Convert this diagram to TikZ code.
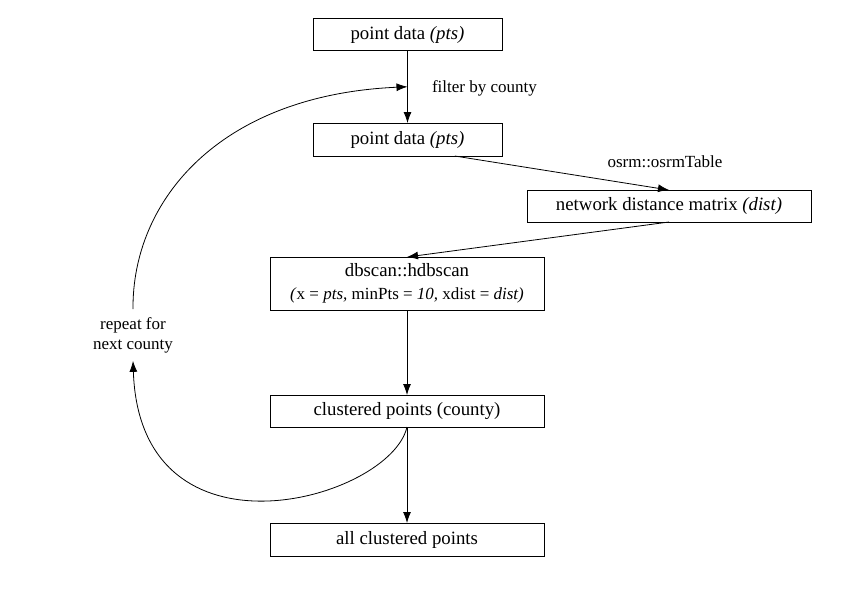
\documentclass[tikz,border=0pt]{standalone}
\usepackage{fontspec}
\setmainfont{Liberation Serif}
\usetikzlibrary{arrows.meta,calc}

\begin{document}
\begin{tikzpicture}[x=1pt, y=-1pt, line width=0.8pt,
    every node/.style={outer sep=0pt, inner sep=0pt},
    box/.style={draw, minimum width=189pt, minimum height=32pt, align=center, font=\fontsize{18.8}{23}\selectfont},
    lbl/.style={align=center, font=\fontsize{17}{20}\selectfont},
    arr/.style={-{Latex[length=11pt, width=8pt]}}]
    \useasboundingbox (0,0) rectangle (858,603);

    \node[box] (pts) at (407.5, 34.5) {point data \textit{(pts)}};
    \node[box, minimum height=33pt] (ptsc) at (407.5, 139.5) {point data \textit{(pts)}};
    \node[box, minimum width=284pt] (dist) at (669, 206) {network distance matrix \textit{(dist)}};
    \node[box, minimum width=274pt, minimum height=53pt] (hdb) at (407, 283.5)
        {dbscan::hdbscan\\ {\fontsize{17}{20}\selectfont\textit{(}x = \textit{pts,} minPts = \textit{10,} xdist = \textit{dist)}}};
    \node[box, minimum width=274pt] (clus) at (407, 411) {clustered points (county)};
    \node[box, minimum width=274pt, minimum height=33pt] (allclus) at (407, 539.5) {all clustered points};

    \node[lbl, anchor=west] (flt) at (432, 88) {filter by county};
    \node[lbl] (osrm) at (665, 162) {osrm::osrmTable};
    \node[lbl, inner ysep=8pt] (rpt) at (133, 335) {repeat for\\next county};

    \coordinate (mid) at ($(pts.south)!0.5!(ptsc.north)$);
    \coordinate (ptsout) at ($(ptsc.south)!0.5!(ptsc.south east)$);

    \draw[arr] (pts) -- (ptsc);
    \draw[arr] (ptsout) -- (dist.north);
    \draw[arr] (dist.south) -- (hdb.north);
    \draw[arr] (hdb) -- (clus);
    \draw[arr] (clus) -- (allclus);

    % loop back to the next county
    \draw[arr] (clus.south) .. controls (390, 500) and (140, 570) .. (rpt.south);
    \draw[arr] (rpt.north) .. controls (132, 200) and (220, 95) .. (mid);
\end{tikzpicture}
\end{document}
